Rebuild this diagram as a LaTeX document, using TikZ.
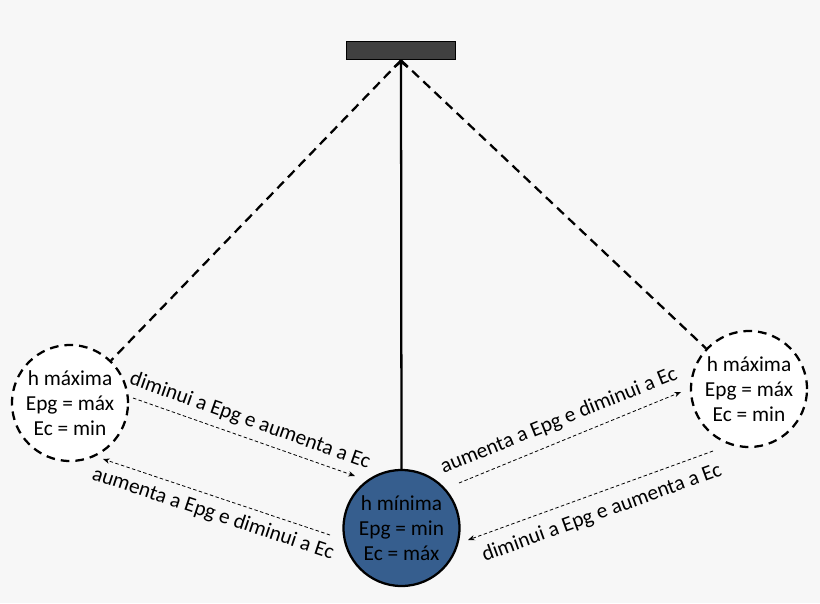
\documentclass[tikz,border=0pt]{standalone}
\usepackage{fontspec}
\setmainfont{Carlito}
\usetikzlibrary{arrows.meta}
\definecolor{bgc}{RGB}{247,247,247}
\definecolor{bluec}{RGB}{54,94,142}
\definecolor{barc}{RGB}{64,64,64}
\begin{document}
\begin{tikzpicture}[x=0.75pt,y=-0.75pt,
  txt/.style={font=\fontsize{16}{18.6}\selectfont},
  bob/.style={circle,minimum size=87pt,inner sep=0pt,align=center,line width=1.7pt,txt},
  maxbob/.style={bob,draw=black,fill=white,dash pattern=on 6.5pt off 4.5pt},
  minbob/.style={bob,draw=black,fill=bluec},
  rope/.style={line width=1.7pt,dash pattern=on 7pt off 4.5pt},
  flow/.style={line width=0.6pt,dash pattern=on 2.6pt off 1.8pt,-{Stealth[length=5pt,width=4pt]}},
  lbl/.style={txt,inner sep=0pt}]
\fill[bgc] (0,0) rectangle (820,603);
\node[draw=black,fill=barc,line width=1.2pt,minimum width=82pt,minimum height=13.5pt,inner sep=0pt] (bar) at (401,50.5) {};
\node[maxbob] (L) at (70,403) {h máxima\\Epg = máx\\Ec = min};
\node[maxbob] (R) at (749,389) {h máxima\\Epg = máx\\Ec = min};
\node[minbob] (B) at (401.5,528) {h mínima\\Epg = min\\Ec = máx};
\draw[rope] (bar.south) -- (L);
\draw[rope] (bar.south) -- (R);
\draw[line width=1.7pt,-{Straight Barb[length=4pt,width=10pt]}] (B.north) -- (bar.south);
\coordinate (a1) at (133,398);
\coordinate (b1) at (355,476);
\coordinate (a2) at (330,535);
\coordinate (b2) at (103,459);
\coordinate (a3) at (459,483);
\coordinate (b3) at (681,392);
\coordinate (a4) at (713,451);
\coordinate (b4) at (468,540);
\draw[flow] (a1) -- (b1);
\draw[flow] (a2) -- (b2);
\draw[flow] (a3) -- (b3);
\draw[flow] (a4) -- (b4);
\node[lbl,rotate=-19.5] (l1) at (250,421) {diminui a Epg e aumenta a Ec};
\node[lbl,rotate=-18.5] (l2) at (213,514) {aumenta a Epg e diminui a Ec};
\node[lbl,rotate=22] (l3) at (559,421) {aumenta a Epg e diminui a Ec};
\node[lbl,rotate=20] (l4) at (602,513) {diminui a Epg e aumenta a Ec};
\end{tikzpicture}
\end{document}
